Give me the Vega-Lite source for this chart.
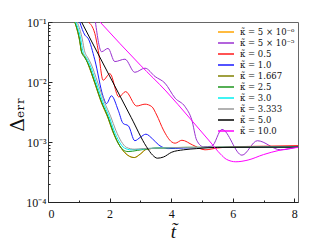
{
  "$schema": "https://vega.github.io/schema/vega-lite/v6.json",
  "width": 250,
  "height": 180,
  "autosize": {"type": "none"},
  "padding": {"left": 48, "top": 22, "right": 34, "bottom": 47},
  "background": "white",
  "config": {
    "view": {"stroke": "#666", "strokeWidth": 1},
    "axis": {"grid": false}
  },
  "data": {"values": [
    {"k": "κ̃ = 5 × 10⁻⁶", "t": 0.87, "e": 0.1},
    {"k": "κ̃ = 5 × 10⁻⁶", "t": 1.03, "e": 0.0479},
    {"k": "κ̃ = 5 × 10⁻⁶", "t": 1.09, "e": 0.0316},
    {"k": "κ̃ = 5 × 10⁻⁶", "t": 1.2, "e": 0.0263},
    {"k": "κ̃ = 5 × 10⁻⁶", "t": 1.3, "e": 0.01995},
    {"k": "κ̃ = 5 × 10⁻⁶", "t": 1.52, "e": 0.00955},
    {"k": "κ̃ = 5 × 10⁻⁶", "t": 1.74, "e": 0.00447},
    {"k": "κ̃ = 5 × 10⁻⁶", "t": 1.95, "e": 0.00251},
    {"k": "κ̃ = 5 × 10⁻⁶", "t": 2.1, "e": 0.00151},
    {"k": "κ̃ = 5 × 10⁻⁶", "t": 2.28, "e": 0.000955},
    {"k": "κ̃ = 5 × 10⁻⁶", "t": 2.5, "e": 0.000661},
    {"k": "κ̃ = 5 × 10⁻⁶", "t": 2.8, "e": 0.00055},
    {"k": "κ̃ = 5 × 10⁻⁶", "t": 3.0, "e": 0.000631},
    {"k": "κ̃ = 5 × 10⁻⁶", "t": 3.2, "e": 0.000759},
    {"k": "κ̃ = 5 × 10⁻⁶", "t": 3.6, "e": 0.000794},
    {"k": "κ̃ = 5 × 10⁻⁶", "t": 4.5, "e": 0.000813},
    {"k": "κ̃ = 5 × 10⁻⁶", "t": 8.12, "e": 0.000822},

    {"k": "κ̃ = 5 × 10⁻⁵", "t": 1.54, "e": 0.1},
    {"k": "κ̃ = 5 × 10⁻⁵", "t": 1.74, "e": 0.032},
    {"k": "κ̃ = 5 × 10⁻⁵", "t": 1.95, "e": 0.0363},
    {"k": "κ̃ = 5 × 10⁻⁵", "t": 2.17, "e": 0.0219},
    {"k": "κ̃ = 5 × 10⁻⁵", "t": 2.5, "e": 0.024},
    {"k": "κ̃ = 5 × 10⁻⁵", "t": 2.82, "e": 0.0145},
    {"k": "κ̃ = 5 × 10⁻⁵", "t": 3.15, "e": 0.017},
    {"k": "κ̃ = 5 × 10⁻⁵", "t": 3.48, "e": 0.0123},
    {"k": "κ̃ = 5 × 10⁻⁵", "t": 3.8, "e": 0.00955},
    {"k": "κ̃ = 5 × 10⁻⁵", "t": 4.13, "e": 0.00537},
    {"k": "κ̃ = 5 × 10⁻⁵", "t": 4.45, "e": 0.00389},
    {"k": "κ̃ = 5 × 10⁻⁵", "t": 4.67, "e": 0.00234},
    {"k": "κ̃ = 5 × 10⁻⁵", "t": 4.83, "e": 0.00107},
    {"k": "κ̃ = 5 × 10⁻⁵", "t": 5.05, "e": 0.000832},
    {"k": "κ̃ = 5 × 10⁻⁵", "t": 5.32, "e": 0.000851},
    {"k": "κ̃ = 5 × 10⁻⁵", "t": 5.65, "e": 0.00162},
    {"k": "κ̃ = 5 × 10⁻⁵", "t": 6.3, "e": 0.000603},
    {"k": "κ̃ = 5 × 10⁻⁵", "t": 6.8, "e": 0.00105},
    {"k": "κ̃ = 5 × 10⁻⁵", "t": 7.55, "e": 0.000741},
    {"k": "κ̃ = 5 × 10⁻⁵", "t": 8.12, "e": 0.000832},

    {"k": "κ̃ = 0.5", "t": 1.31, "e": 0.1},
    {"k": "κ̃ = 0.5", "t": 1.52, "e": 0.0646},
    {"k": "κ̃ = 0.5", "t": 1.63, "e": 0.0339},
    {"k": "κ̃ = 0.5", "t": 1.79, "e": 0.0107},
    {"k": "κ̃ = 0.5", "t": 2.01, "e": 0.0138},
    {"k": "κ̃ = 0.5", "t": 2.3, "e": 0.00562},
    {"k": "κ̃ = 0.5", "t": 2.52, "e": 0.00692},
    {"k": "κ̃ = 0.5", "t": 2.88, "e": 0.00398},
    {"k": "κ̃ = 0.5", "t": 3.15, "e": 0.00427},
    {"k": "κ̃ = 0.5", "t": 3.37, "e": 0.00389},
    {"k": "κ̃ = 0.5", "t": 3.53, "e": 0.00282},
    {"k": "κ̃ = 0.5", "t": 3.75, "e": 0.00158},
    {"k": "κ̃ = 0.5", "t": 4.02, "e": 0.001},
    {"k": "κ̃ = 0.5", "t": 4.13, "e": 0.000955},
    {"k": "κ̃ = 0.5", "t": 4.35, "e": 0.00107},
    {"k": "κ̃ = 0.5", "t": 4.7, "e": 0.000891},
    {"k": "κ̃ = 0.5", "t": 5.1, "e": 0.000741},
    {"k": "κ̃ = 0.5", "t": 5.5, "e": 0.000794},
    {"k": "κ̃ = 0.5", "t": 6.0, "e": 0.000832},
    {"k": "κ̃ = 0.5", "t": 7.0, "e": 0.000851},
    {"k": "κ̃ = 0.5", "t": 8.12, "e": 0.000871},

    {"k": "κ̃ = 1.0", "t": 1.03, "e": 0.1},
    {"k": "κ̃ = 1.0", "t": 1.2, "e": 0.0603},
    {"k": "κ̃ = 1.0", "t": 1.3, "e": 0.0537},
    {"k": "κ̃ = 1.0", "t": 1.52, "e": 0.0234},
    {"k": "κ̃ = 1.0", "t": 1.79, "e": 0.00575},
    {"k": "κ̃ = 1.0", "t": 1.9, "e": 0.00437},
    {"k": "κ̃ = 1.0", "t": 2.06, "e": 0.00589},
    {"k": "κ̃ = 1.0", "t": 2.28, "e": 0.00339},
    {"k": "κ̃ = 1.0", "t": 2.44, "e": 0.00204},
    {"k": "κ̃ = 1.0", "t": 2.61, "e": 0.00186},
    {"k": "κ̃ = 1.0", "t": 2.82, "e": 0.00105},
    {"k": "κ̃ = 1.0", "t": 3.0, "e": 0.0012},
    {"k": "κ̃ = 1.0", "t": 3.18, "e": 0.00135},
    {"k": "κ̃ = 1.0", "t": 3.4, "e": 0.00112},
    {"k": "κ̃ = 1.0", "t": 3.6, "e": 0.000891},
    {"k": "κ̃ = 1.0", "t": 3.9, "e": 0.000776},
    {"k": "κ̃ = 1.0", "t": 4.4, "e": 0.000794},
    {"k": "κ̃ = 1.0", "t": 5.5, "e": 0.000813},
    {"k": "κ̃ = 1.0", "t": 8.12, "e": 0.000822},

    {"k": "κ̃ = 1.667", "t": 0.87, "e": 0.1},
    {"k": "κ̃ = 1.667", "t": 1.03, "e": 0.0479},
    {"k": "κ̃ = 1.667", "t": 1.09, "e": 0.0316},
    {"k": "κ̃ = 1.667", "t": 1.2, "e": 0.0263},
    {"k": "κ̃ = 1.667", "t": 1.3, "e": 0.01995},
    {"k": "κ̃ = 1.667", "t": 1.52, "e": 0.00955},
    {"k": "κ̃ = 1.667", "t": 1.74, "e": 0.00447},
    {"k": "κ̃ = 1.667", "t": 1.95, "e": 0.00251},
    {"k": "κ̃ = 1.667", "t": 2.1, "e": 0.00151},
    {"k": "κ̃ = 1.667", "t": 2.28, "e": 0.000955},
    {"k": "κ̃ = 1.667", "t": 2.5, "e": 0.000661},
    {"k": "κ̃ = 1.667", "t": 2.8, "e": 0.00055},
    {"k": "κ̃ = 1.667", "t": 3.0, "e": 0.000631},
    {"k": "κ̃ = 1.667", "t": 3.2, "e": 0.000759},
    {"k": "κ̃ = 1.667", "t": 3.6, "e": 0.000794},
    {"k": "κ̃ = 1.667", "t": 4.5, "e": 0.000813},
    {"k": "κ̃ = 1.667", "t": 8.12, "e": 0.000822},

    {"k": "κ̃ = 2.5", "t": 0.87, "e": 0.1},
    {"k": "κ̃ = 2.5", "t": 1.03, "e": 0.0501},
    {"k": "κ̃ = 2.5", "t": 1.09, "e": 0.0316},
    {"k": "κ̃ = 2.5", "t": 1.2, "e": 0.0251},
    {"k": "κ̃ = 2.5", "t": 1.3, "e": 0.0204},
    {"k": "κ̃ = 2.5", "t": 1.52, "e": 0.01},
    {"k": "κ̃ = 2.5", "t": 1.74, "e": 0.00468},
    {"k": "κ̃ = 2.5", "t": 1.95, "e": 0.00263},
    {"k": "κ̃ = 2.5", "t": 2.1, "e": 0.00158},
    {"k": "κ̃ = 2.5", "t": 2.28, "e": 0.000955},
    {"k": "κ̃ = 2.5", "t": 2.44, "e": 0.000741},
    {"k": "κ̃ = 2.5", "t": 2.6, "e": 0.000692},
    {"k": "κ̃ = 2.5", "t": 2.9, "e": 0.000724},
    {"k": "κ̃ = 2.5", "t": 3.3, "e": 0.000776},
    {"k": "κ̃ = 2.5", "t": 4.0, "e": 0.000804},
    {"k": "κ̃ = 2.5", "t": 8.12, "e": 0.000822},

    {"k": "κ̃ = 3.0", "t": 0.9, "e": 0.1},
    {"k": "κ̃ = 3.0", "t": 1.07, "e": 0.0501},
    {"k": "κ̃ = 3.0", "t": 1.13, "e": 0.0331},
    {"k": "κ̃ = 3.0", "t": 1.25, "e": 0.0251},
    {"k": "κ̃ = 3.0", "t": 1.35, "e": 0.01995},
    {"k": "κ̃ = 3.0", "t": 1.56, "e": 0.01},
    {"k": "κ̃ = 3.0", "t": 1.78, "e": 0.00468},
    {"k": "κ̃ = 3.0", "t": 1.99, "e": 0.00263},
    {"k": "κ̃ = 3.0", "t": 2.14, "e": 0.00158},
    {"k": "κ̃ = 3.0", "t": 2.32, "e": 0.001},
    {"k": "κ̃ = 3.0", "t": 2.48, "e": 0.000794},
    {"k": "κ̃ = 3.0", "t": 2.7, "e": 0.000741},
    {"k": "κ̃ = 3.0", "t": 3.0, "e": 0.000759},
    {"k": "κ̃ = 3.0", "t": 3.5, "e": 0.000794},
    {"k": "κ̃ = 3.0", "t": 4.5, "e": 0.000813},
    {"k": "κ̃ = 3.0", "t": 8.12, "e": 0.000822},

    {"k": "κ̃ = 3.333", "t": 0.95, "e": 0.1},
    {"k": "κ̃ = 3.333", "t": 1.12, "e": 0.0501},
    {"k": "κ̃ = 3.333", "t": 1.18, "e": 0.0339},
    {"k": "κ̃ = 3.333", "t": 1.3, "e": 0.0251},
    {"k": "κ̃ = 3.333", "t": 1.4, "e": 0.01995},
    {"k": "κ̃ = 3.333", "t": 1.61, "e": 0.01},
    {"k": "κ̃ = 3.333", "t": 1.83, "e": 0.00468},
    {"k": "κ̃ = 3.333", "t": 2.04, "e": 0.00263},
    {"k": "κ̃ = 3.333", "t": 2.2, "e": 0.00158},
    {"k": "κ̃ = 3.333", "t": 2.38, "e": 0.00102},
    {"k": "κ̃ = 3.333", "t": 2.55, "e": 0.000813},
    {"k": "κ̃ = 3.333", "t": 2.8, "e": 0.000759},
    {"k": "κ̃ = 3.333", "t": 3.1, "e": 0.000776},
    {"k": "κ̃ = 3.333", "t": 3.6, "e": 0.000794},
    {"k": "κ̃ = 3.333", "t": 4.5, "e": 0.000813},
    {"k": "κ̃ = 3.333", "t": 8.12, "e": 0.000822},

    {"k": "κ̃ = 5.0", "t": 1.09, "e": 0.1},
    {"k": "κ̃ = 5.0", "t": 2.0, "e": 0.0126},
    {"k": "κ̃ = 5.0", "t": 2.7, "e": 0.00257},
    {"k": "κ̃ = 5.0", "t": 3.2, "e": 0.000832},
    {"k": "κ̃ = 5.0", "t": 3.4, "e": 0.000603},
    {"k": "κ̃ = 5.0", "t": 3.55, "e": 0.000537},
    {"k": "κ̃ = 5.0", "t": 3.75, "e": 0.000562},
    {"k": "κ̃ = 5.0", "t": 4.02, "e": 0.000676},
    {"k": "κ̃ = 5.0", "t": 4.4, "e": 0.000741},
    {"k": "κ̃ = 5.0", "t": 4.83, "e": 0.000776},
    {"k": "κ̃ = 5.0", "t": 5.5, "e": 0.000813},
    {"k": "κ̃ = 5.0", "t": 8.12, "e": 0.000822},

    {"k": "κ̃ = 10.0", "t": 1.69, "e": 0.1},
    {"k": "κ̃ = 10.0", "t": 3.0, "e": 0.0191},
    {"k": "κ̃ = 10.0", "t": 3.83, "e": 0.00708},
    {"k": "κ̃ = 10.0", "t": 4.6, "e": 0.00251},
    {"k": "κ̃ = 10.0", "t": 5.27, "e": 0.001},
    {"k": "κ̃ = 10.0", "t": 5.6, "e": 0.000631},
    {"k": "κ̃ = 10.0", "t": 5.8, "e": 0.000513},
    {"k": "κ̃ = 10.0", "t": 6.1, "e": 0.000468},
    {"k": "κ̃ = 10.0", "t": 6.5, "e": 0.000501},
    {"k": "κ̃ = 10.0", "t": 7.0, "e": 0.000617},
    {"k": "κ̃ = 10.0", "t": 7.5, "e": 0.000724},
    {"k": "κ̃ = 10.0", "t": 8.12, "e": 0.000813}
  ]},
  "layer": [
    {
      "mark": {"type": "line", "strokeWidth": 1, "interpolate": "monotone", "clip": true},
      "encoding": {
        "x": {
          "field": "t", "type": "quantitative",
          "scale": {"domain": [0, 8.12], "nice": false, "zero": false},
          "axis": {
            "orient": "bottom",
            "values": [0, 2, 4, 6, 8], "format": "d",
            "tickSize": -4, "tickColor": "#222", "domainColor": "#222",
            "labelPadding": 10, "labelFont": "Liberation Serif", "labelFontSize": 12, "labelColor": "#111",
            "title": "t̃", "titleFont": "Liberation Serif", "titleFontStyle": "italic",
            "titleFontSize": 19, "titleFontWeight": "normal", "titleColor": "#111", "titleY": 20
          }
        },
        "y": {
          "field": "e", "type": "quantitative",
          "scale": {"type": "log", "domain": [0.0001, 0.1], "nice": false},
          "axis": {
            "orient": "left",
            "values": [0.0001, 0.001, 0.01, 0.1],
            "labelExpr": "datum.value >= 0.05 ? '10⁻¹' : datum.value >= 0.005 ? '10⁻²' : datum.value >= 0.0005 ? '10⁻³' : '10⁻⁴'",
            "tickSize": -4, "tickColor": "#222", "domainColor": "#333",
            "labelPadding": 6, "labelFont": "Liberation Serif", "labelFontSize": 12, "labelColor": "#111",
            "title": "Δₑᵣᵣ", "titleFont": "DejaVu Serif", "titleFontSize": 19, "titleFontWeight": "normal",
            "titleColor": "#111", "titleX": -21, "titleY": 92
          }
        },
        "color": {
          "field": "k", "type": "nominal",
          "scale": {
            "domain": ["κ̃ = 5 × 10⁻⁶", "κ̃ = 5 × 10⁻⁵", "κ̃ = 0.5", "κ̃ = 1.0", "κ̃ = 1.667", "κ̃ = 2.5", "κ̃ = 3.0", "κ̃ = 3.333", "κ̃ = 5.0", "κ̃ = 10.0"],
            "range": ["#FFA500", "#9A30D0", "#FF1A1A", "#1A1AFF", "#808000", "#1E961E", "#00F0F0", "#999999", "#000000", "#FF00FF"]
          },
          "legend": {
            "orient": "none", "legendX": 172, "legendY": 4, "title": null,
            "padding": 0, "rowPadding": 0,
            "symbolType": "M-1.6,0H1.6", "symbolSize": 100, "symbolStrokeWidth": 1.5,
            "labelFont": "DejaVu Serif", "labelFontSize": 8.5, "labelColor": "#111", "labelOffset": 8
          }
        }
      }
    },
    {
      "mark": {"type": "line", "opacity": 0},
      "encoding": {
        "x": {
          "field": "t", "type": "quantitative",
          "axis": {"orient": "bottom", "values": [1, 3, 5, 7], "labels": false, "domain": false, "tickSize": -2, "tickColor": "#222", "title": null}
        },
        "y": {
          "field": "e", "type": "quantitative",
          "axis": {"orient": "left", "values": [0.0002, 0.0003, 0.0004, 0.0005, 0.0006, 0.0007, 0.0008, 0.0009, 0.002, 0.003, 0.004, 0.005, 0.006, 0.007, 0.008, 0.009, 0.02, 0.03, 0.04, 0.05, 0.06, 0.07, 0.08, 0.09], "labels": false, "domain": false, "tickSize": -2, "tickColor": "#222", "title": null}
        }
      }
    }
  ],
  "resolve": {"axis": {"x": "independent", "y": "independent"}}
}
